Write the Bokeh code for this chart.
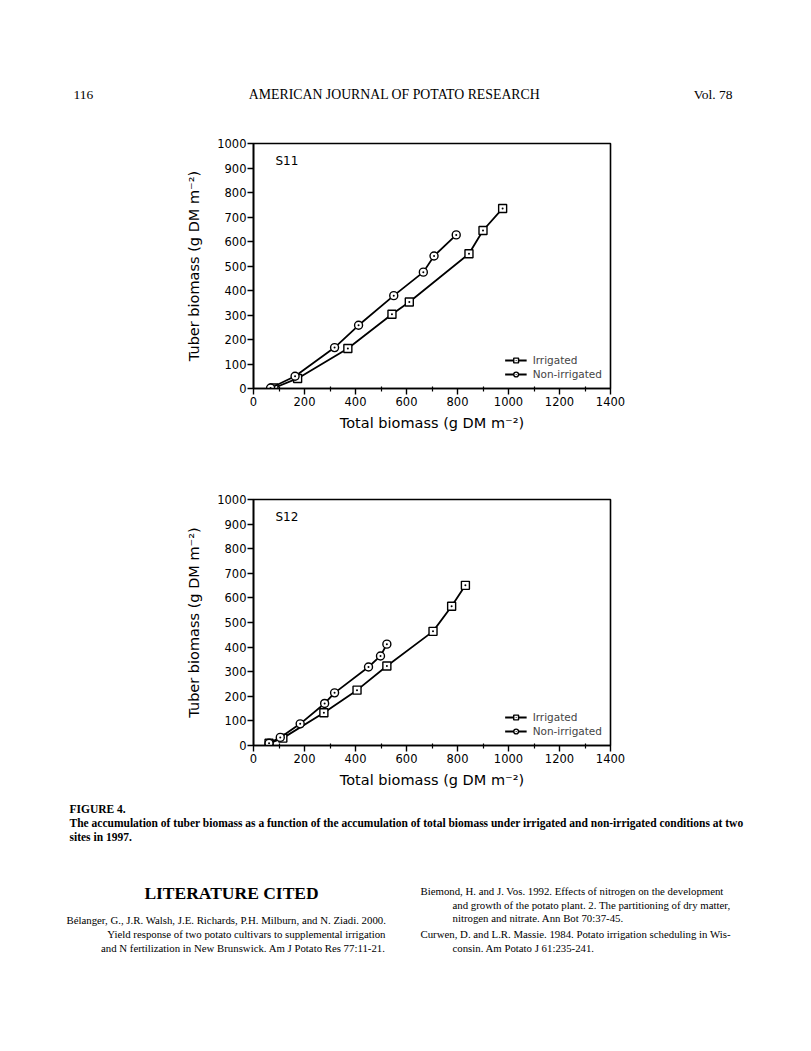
from bokeh.plotting import figure
from bokeh.models import Range1d, Label, Legend, LegendItem, FixedTicker
from bokeh.layouts import column
from bokeh.embed import file_html
from bokeh.resources import INLINE

# ---------------- data ----------------
s11_irr_total = [80, 173, 370, 543, 611, 845, 900, 977]
s11_irr_tuber = [2, 41, 163, 303, 353, 550, 645, 735]
s11_non_total = [67, 163, 318, 412, 550, 666, 708, 795]
s11_non_tuber = [2, 50, 167, 258, 379, 475, 541, 627]

s12_irr_total = [61, 115, 276, 406, 523, 704, 777, 831]
s12_irr_tuber = [9, 30, 133, 225, 323, 464, 566, 651]
s12_non_total = [61, 105, 183, 279, 318, 451, 498, 523]
s12_non_tuber = [9, 33, 88, 171, 214, 319, 364, 412]

x_ticks = [0, 200, 400, 600, 800, 1000, 1200, 1400]
x_minor = [100, 300, 500, 700, 900, 1100, 1300]
y_ticks = [0, 100, 200, 300, 400, 500, 600, 700, 800, 900, 1000]

series_labels = ["Irrigated", "Non-irrigated"]
x_title = "Total biomass (g DM m⁻²)"
y_title = "Tuber biomass (g DM m⁻²)"

header_left = "116"
header_center = "AMERICAN JOURNAL OF POTATO RESEARCH"
header_right = "Vol. 78"

caption_head = "FIGURE 4."
caption_lines = [
    "The accumulation of tuber biomass as a function of the accumulation of total biomass under irrigated and non-irrigated conditions at two",
    "sites in 1997.",
]
lit_title = "LITERATURE CITED"
ref_left = [
    "Bélanger, G., J.R. Walsh, J.E. Richards, P.H. Milburn, and N. Ziadi. 2000.",
    "Yield response of two potato cultivars to supplemental irrigation",
    "and N fertilization in New Brunswick. Am J Potato Res 77:11-21.",
]
ref_right = [
    "Biemond, H. and J. Vos. 1992. Effects of nitrogen on the development",
    "and growth of the potato plant. 2. The partitioning of dry matter,",
    "nitrogen and nitrate. Ann Bot 70:37-45.",
    "Curwen, D. and L.R. Massie. 1984. Potato irrigation scheduling in Wis-",
    "consin. Am Potato J 61:235-241.",
]

SANS = "DejaVu Sans"
SERIF = "Liberation Serif"
W = 811


def chart(site, ix, iy, nx, ny, height, top, bottom):
    p = figure(width=W, height=height, x_range=Range1d(0, 1400), y_range=Range1d(0, 1000),
               output_backend="svg", toolbar_location=None, frame_align=False,
               min_border_left=253, min_border_right=201,
               min_border_top=top, min_border_bottom=bottom)
    p.grid.visible = False
    p.outline_line_color = "black"
    p.outline_line_width = 1.6
    p.background_fill_color = "white"
    p.border_fill_color = "white"

    p.xaxis.ticker = FixedTicker(ticks=x_ticks, minor_ticks=x_minor)
    p.yaxis.ticker = FixedTicker(ticks=y_ticks)
    for ax in (p.xaxis[0], p.yaxis[0]):
        ax.axis_line_width = 1.6
        ax.axis_line_color = "black"
        ax.major_tick_line_width = 1.4
        ax.major_tick_line_color = "black"
        ax.major_tick_in = 0
        ax.major_tick_out = 6
        ax.major_label_text_font = SANS
        ax.major_label_text_font_size = "11.5px"
        ax.major_label_text_color = "black"
        ax.axis_label_text_font = SANS
        ax.axis_label_text_font_size = "14.5px"
        ax.axis_label_text_font_style = "normal"
        ax.axis_label_text_color = "black"
    p.xaxis.minor_tick_in = 2
    p.xaxis.minor_tick_out = 3
    p.xaxis.minor_tick_line_width = 1.2
    p.xaxis.minor_tick_line_color = "black"
    p.yaxis.minor_tick_line_color = None
    p.xaxis.major_label_standoff = 2
    p.yaxis.major_label_standoff = 1
    p.xaxis.axis_label = x_title
    p.yaxis.axis_label = y_title
    p.xaxis.axis_label_standoff = 6
    p.yaxis.axis_label_standoff = 12

    l1 = p.line(ix, iy, line_color="black", line_width=1.8)
    m1 = p.scatter(ix, iy, marker="square_dot", size=8, fill_color="white",
                   line_color="black", line_width=1.4)
    l2 = p.line(nx, ny, line_color="black", line_width=1.8)
    m2 = p.scatter(nx, ny, marker="circle_dot", size=8, fill_color="white",
                   line_color="black", line_width=1.4)

    legend = Legend(items=[LegendItem(label=series_labels[0], renderers=[l1, m1]),
                           LegendItem(label=series_labels[1], renderers=[l2, m2])],
                    location="bottom_right", border_line_color=None,
                    background_fill_alpha=0, label_text_font=SANS,
                    label_text_font_size="10.5px", glyph_width=22, glyph_height=12,
                    label_height=13, spacing=1, padding=2, margin=8, label_standoff=6)
    p.add_layout(legend)

    p.add_layout(Label(x=86, y=959, text=site, text_baseline="top", text_align="left",
                       text_font=SANS, text_font_size="12px", text_color="black"))
    return p


def text_fig(y0, y1):
    f = figure(width=W, height=y1 - y0, x_range=Range1d(0, W), y_range=Range1d(y1, y0),
               output_backend="svg", toolbar_location=None, min_border=0, frame_align=False,
               x_axis_location=None, y_axis_location=None, outline_line_color=None)
    f.grid.visible = False
    return f


def put(f, x, y, txt, size, align="left", style="normal"):
    f.add_layout(Label(x=x, y=y, text=txt, text_align=align, text_baseline="middle",
                       text_font=SERIF, text_font_size=size, text_font_style=style,
                       text_color="black"))


# header
hdr = text_fig(0, 125)
put(hdr, 73, 94, header_left, "13.5px")
put(hdr, 394, 94, header_center, "13.8px", align="center")
put(hdr, 732, 94, header_right, "13.5px", align="right")

c1 = chart("S11", s11_irr_total, s11_irr_tuber, s11_non_total, s11_non_tuber, 330, 18, 67)
c2 = chart("S12", s12_irr_total, s12_irr_tuber, s12_non_total, s12_non_tuber, 340, 44, 50)

# bottom text
bot = text_fig(795, 1051)
put(bot, 69, 808, caption_head, "11.5px", style="bold")
put(bot, 69, 822, caption_lines[0], "11.5px", style="bold")
put(bot, 69, 836, caption_lines[1], "11.5px", style="bold")
put(bot, 231, 892, lit_title, "17.5px", align="center", style="bold")
put(bot, 66, 919, ref_left[0], "10.8px")
put(bot, 385, 933, ref_left[1], "10.8px", align="right")
put(bot, 385, 947, ref_left[2], "10.8px", align="right")
put(bot, 420, 890, ref_right[0], "10.8px")
put(bot, 452, 904, ref_right[1], "10.8px")
put(bot, 452, 917, ref_right[2], "10.8px")
put(bot, 420, 933, ref_right[3], "10.8px")
put(bot, 452, 947, ref_right[4], "10.8px")

page = column(hdr, c1, c2, bot, spacing=0)
open("out.html", "w").write(file_html(page, INLINE))
